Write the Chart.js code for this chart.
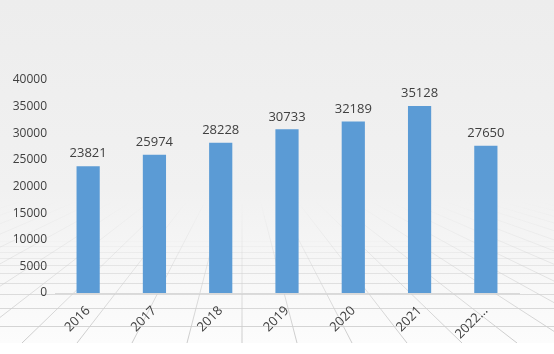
<!DOCTYPE html>
<html>
<head>
<meta charset="utf-8">
<script src="https://cdn.jsdelivr.net/npm/chart.js@4/dist/chart.umd.min.js"></script>
<style>
  html, body { margin: 0; padding: 0; background: #fff; }
  #wrap { width: 554px; height: 354px; }
</style>
</head>
<body>
<div id="wrap"><canvas id="chart"></canvas></div>
<script>
const years = ['2016', '2017', '2018', '2019', '2020', '2021', '2022…'];
const totals = [23821, 25974, 28228, 30733, 32189, 35128, 27650];
const yTicks = [0, 5000, 10000, 15000, 20000, 25000, 30000, 35000, 40000];

const FONT = '"Open Sans", "Noto Sans", sans-serif';
const TEXT = '#404040';

// soft grey backdrop with a perspective floor, like the office template
const backdrop = {
  id: 'backdrop',
  beforeDraw(chart) {
    const { ctx, width, height } = chart;
    ctx.save();
    const g = ctx.createLinearGradient(0, 0, 0, 343);
    g.addColorStop(0, '#ededed');
    g.addColorStop(0.55, '#f1f1f1');
    g.addColorStop(1, '#fcfcfc');
    ctx.fillStyle = g;
    ctx.fillRect(0, 0, width, 343);
    ctx.fillStyle = '#ffffff';
    ctx.fillRect(0, 343, width, height - 343);

    // floor grid
    ctx.beginPath();
    ctx.rect(0, 190, width, 153);
    ctx.clip();
    const vx = 242, vy = 130, by = 343, top = 200;
    ctx.lineWidth = 1;
    for (let k = -18; k <= 18; k++) {
      const bx = vx + k * 55;
      const fade = ctx.createLinearGradient(0, top, 0, by);
      fade.addColorStop(0, 'rgba(210,210,210,0)');
      fade.addColorStop(0.5, 'rgba(208,208,208,0.5)');
      fade.addColorStop(1, 'rgba(200,200,200,0.95)');
      ctx.strokeStyle = fade;
      ctx.beginPath();
      ctx.moveTo(bx, by);
      ctx.lineTo(vx + (bx - vx) * (top - vy) / (by - vy), top);
      ctx.stroke();
    }
    const rows = [343, 326, 308, 294, 283, 273, 265, 258, 252, 246, 241];
    rows.forEach((y, i) => {
      ctx.strokeStyle = 'rgba(205,205,205,' + Math.max(0, 0.95 - i * 0.09) + ')';
      ctx.beginPath();
      ctx.moveTo(0, y + 0.5);
      ctx.lineTo(width, y + 0.5);
      ctx.stroke();
    });
    ctx.restore();
  }
};

const valueLabels = {
  id: 'valueLabels',
  afterDatasetsDraw(chart) {
    const { ctx } = chart;
    const meta = chart.getDatasetMeta(0);
    ctx.save();
    ctx.font = '13px ' + FONT;
    ctx.fillStyle = TEXT;
    ctx.textAlign = 'center';
    ctx.textBaseline = 'bottom';
    meta.data.forEach((bar, i) => {
      ctx.fillText(String(totals[i]), bar.x, bar.y - 6);
    });
    ctx.restore();
  }
};

new Chart(document.getElementById('chart'), {
  type: 'bar',
  data: {
    labels: years,
    datasets: [{
      data: totals,
      backgroundColor: '#5b9bd5',
      barPercentage: 0.35,
      categoryPercentage: 1
    }]
  },
  options: {
    responsive: true,
    maintainAspectRatio: false,
    animation: false,
    layout: { padding: { top: 80, right: 35, left: 0, bottom: 0 } },
    plugins: { legend: { display: false }, tooltip: { enabled: false } },
    scales: {
      x: {
        grid: { display: false },
        border: { display: true, color: '#d9d9d9', width: 1 },
        ticks: {
          color: TEXT,
          font: { family: FONT, size: 13 },
          minRotation: 45,
          maxRotation: 45,
          padding: 2
        },
        afterFit(scale) { scale.height = 61; }
      },
      y: {
        min: 0,
        max: 40000,
        afterBuildTicks(scale) { scale.ticks = yTicks.map(v => ({ value: v })); },
        grid: { display: false },
        border: { display: false },
        ticks: {
          color: TEXT,
          font: { family: FONT, size: 12 },
          padding: 0,
          callback: v => String(v)
        },
        afterFit(scale) { scale.width = 55; }
      }
    }
  },
  plugins: [backdrop, valueLabels]
});
</script>
</body>
</html>
